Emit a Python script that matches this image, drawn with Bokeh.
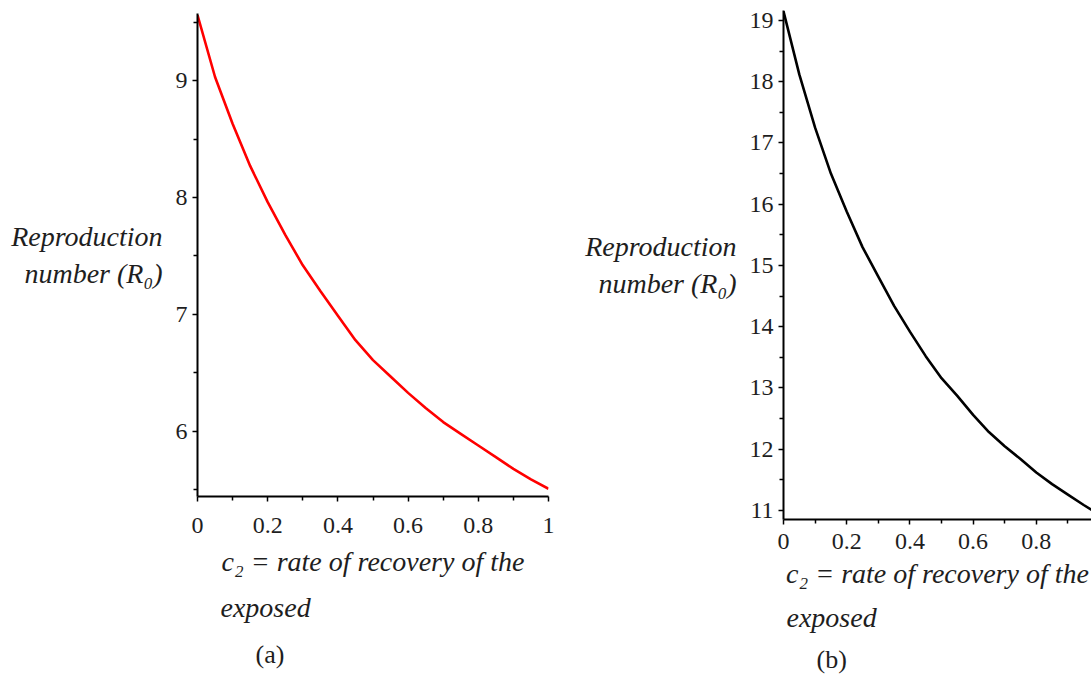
from bokeh.plotting import figure
from bokeh.models import Range1d, FixedTicker, Title
from bokeh.layouts import row, column
from bokeh.embed import file_html
from bokeh.resources import INLINE

# ---- data ----
c2_a = [0.00, 0.05, 0.10, 0.15, 0.20, 0.25, 0.30, 0.35, 0.40, 0.45, 0.50,
        0.55, 0.60, 0.65, 0.70, 0.75, 0.80, 0.85, 0.90, 0.95, 1.00]
r0_a = [9.56, 9.03, 8.63, 8.27, 7.96, 7.68, 7.42, 7.20, 6.99, 6.78, 6.61,
        6.47, 6.33, 6.20, 6.08, 5.98, 5.88, 5.78, 5.68, 5.59, 5.51]

c2_b = [0.00, 0.05, 0.10, 0.15, 0.20, 0.25, 0.30, 0.35, 0.40, 0.45, 0.50,
        0.55, 0.60, 0.65, 0.70, 0.75, 0.80, 0.85, 0.90, 0.95, 1.00]
r0_b = [19.15, 18.12, 17.25, 16.50, 15.88, 15.30, 14.82, 14.34, 13.92, 13.52, 13.16,
        12.87, 12.56, 12.28, 12.05, 11.84, 11.62, 11.43, 11.26, 11.09, 10.93]

xticks_a = [0, 0.2, 0.4, 0.6, 0.8, 1]
xtick_labels_a = ["0", "0.2", "0.4", "0.6", "0.8", "1"]
xminor_a = [0.1, 0.3, 0.5, 0.7, 0.9]
yticks_a = [6, 7, 8, 9]
yminor_a = [5.5, 6.5, 7.5, 8.5, 9.5]

xticks_b = [0, 0.2, 0.4, 0.6, 0.8]
xtick_labels_b = ["0", "0.2", "0.4", "0.6", "0.8"]
xminor_b = [0.1, 0.3, 0.5, 0.7, 0.9]
yticks_b = [11, 12, 13, 14, 15, 16, 17, 18, 19]
yminor_b = [11.5, 12.5, 13.5, 14.5, 15.5, 16.5, 17.5, 18.5]

ylabel_text = "Reproduction\nnumber (R\u2080)"
xlabel_text = "c\u2082 = rate of recovery of the"
xlabel_line2 = "exposed"
caption_a = "(a)"
caption_b = "(b)"

SERIF = "Liberation Serif"
TXT = "#1e1e1e"


def make_panel(width, height, fl, fr, ft, fb, xr, yr, xt, xtl, xm, yt, ym,
               x_standoff, xl_standoff, yl_standoff, exp_offset, exp_standoff,
               cap_offset, cap_standoff, cap_text):
    p = figure(width=width, height=height, output_backend="svg", toolbar_location=None,
               x_range=Range1d(*xr), y_range=Range1d(*yr),
               min_border_left=fl, min_border_right=fr, min_border_top=ft, min_border_bottom=fb)
    p.outline_line_color = None
    p.grid.visible = False
    p.background_fill_color = "white"
    p.border_fill_color = "white"
    p.xaxis.ticker = FixedTicker(ticks=xt, minor_ticks=xm)
    p.xaxis.major_label_overrides = {float(t): s for t, s in zip(xt, xtl)}
    p.yaxis.ticker = FixedTicker(ticks=yt, minor_ticks=ym)
    for ax in (p.xaxis[0], p.yaxis[0]):
        ax.axis_line_width = 2
        ax.axis_line_color = "black"
        ax.major_tick_in = 0
        ax.major_tick_out = 5
        ax.minor_tick_in = 0
        ax.minor_tick_out = 4
        ax.major_tick_line_width = 1.5
        ax.minor_tick_line_width = 1.5
        ax.major_tick_line_color = "black"
        ax.minor_tick_line_color = "black"
        ax.major_label_text_font = SERIF
        ax.major_label_text_font_size = "24px"
        ax.major_label_text_color = TXT
        ax.axis_label_text_font = SERIF
        ax.axis_label_text_font_size = "28px"
        ax.axis_label_text_font_style = "italic"
        ax.axis_label_text_color = TXT
    p.xaxis.major_label_standoff = x_standoff
    p.yaxis.major_label_standoff = 5
    p.xaxis.axis_label = xlabel_text
    p.xaxis.axis_label_standoff = xl_standoff
    p.yaxis.axis_label = ylabel_text
    p.yaxis.axis_label_orientation = "horizontal"
    p.yaxis.axis_label_standoff = yl_standoff
    p.add_layout(Title(text=xlabel_line2, align="left", offset=exp_offset, standoff=exp_standoff,
                       text_font=SERIF, text_font_size="28px", text_font_style="italic",
                       text_color=TXT), "below")
    p.add_layout(Title(text=cap_text, align="left", offset=cap_offset, standoff=cap_standoff,
                       text_font=SERIF, text_font_size="26px", text_font_style="normal",
                       text_color=TXT), "below")
    return p


# panel (a): frame page x 197..548, y 13..496
pa = make_panel(560, 677, 197, 12, 13, 181, (0.0, 1.0), (5.444, 9.573),
                xticks_a, xtick_labels_a, xminor_a, yticks_a, yminor_a,
                16, 10, 10, 23, 20, 58, 10, caption_a)
pa.line(c2_a, r0_a, line_color="#ff0000", line_width=2.6)

# panel (b): frame page x 783..1091, y 10..519
pb = make_panel(531, 677, 223, 0, 10, 158, (0.0, 308 / 316), (10.853, 19.163),
                xticks_b, xtick_labels_b, xminor_b, yticks_b, yminor_b,
                9, 6, 10, 3, 16, 33, 4, caption_b)
pb.line(c2_b, r0_b, line_color="black", line_width=2.6)

layout = row(column(pa), column(pb), spacing=0)
open("out.html", "w").write(file_html(layout, INLINE))
